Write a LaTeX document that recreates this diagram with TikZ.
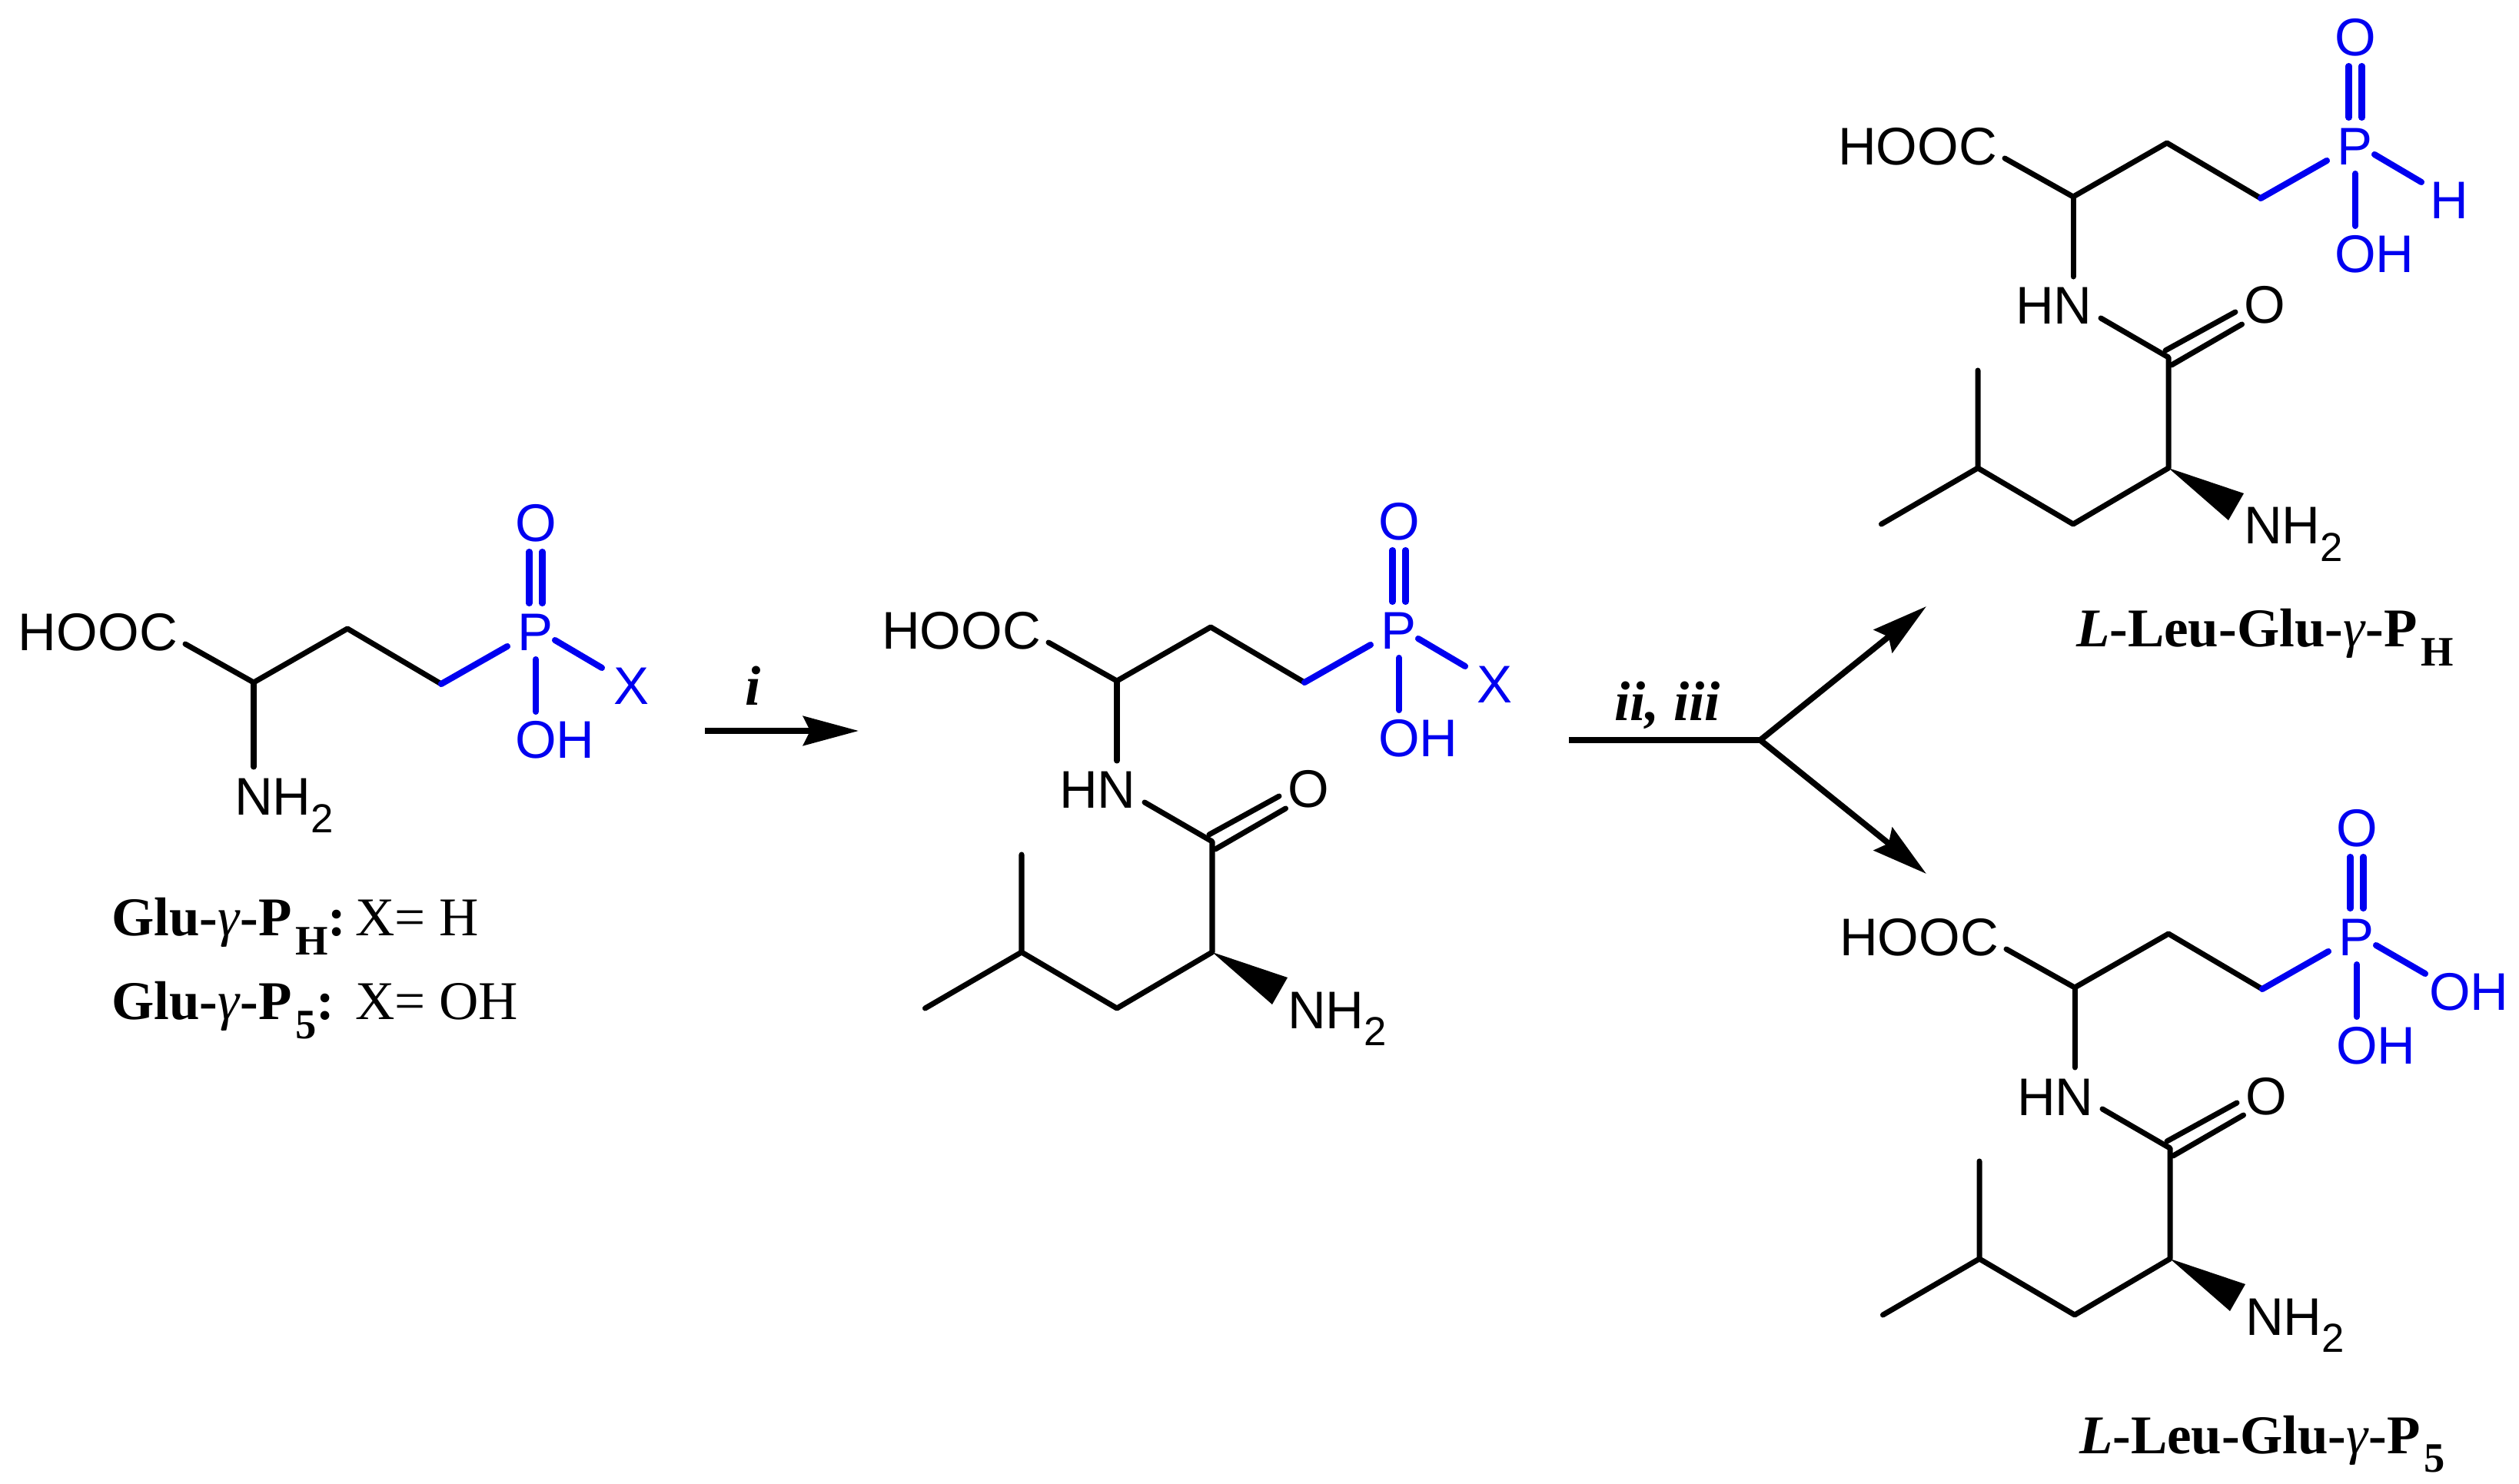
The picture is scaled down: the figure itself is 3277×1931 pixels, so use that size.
\documentclass[tikz,border=0pt]{standalone}
\usepackage{fontspec}
\setmainfont{Liberation Serif}
\newfontfamily\chemfont{Liberation Sans}
\usetikzlibrary{arrows.meta}
\definecolor{chemblue}{RGB}{0,0,240}
\newcommand{\chsub}[1]{\raisebox{-0.33em}{\fontsize{15}{15}\selectfont #1}}
\newcommand{\lblsub}[1]{\raisebox{-0.34em}{\kern0.06em\fontsize{15.5}{16}\selectfont\bfseries #1}}
\newcommand{\gam}{{\normalfont\itshape γ}}
\tikzset{
  bond/.style={line width=2pt,line cap=round,line join=round,black},
  pbond/.style={line width=2.3pt,line cap=round,line join=round,chemblue},
  atom/.style={anchor=base west,inner sep=0pt,outer sep=0pt,font=\chemfont\fontsize{19.6}{20}\selectfont,text=black},
  patom/.style={atom,text=chemblue},
  caption/.style={anchor=base west,inner sep=0pt,outer sep=0pt,font=\fontsize{20.2}{21}\selectfont,text=black},
  rxn/.style={anchor=base,inner sep=0pt,outer sep=0pt,font=\bfseries\itshape\fontsize{20.7}{21}\selectfont,text=black},
  arrowline/.style={line width=2.2pt,black},
  arrowtip/.style={-{Stealth[length=0.72cm,width=0.38cm,inset=0.09cm]}}
}
\newcommand{\phoschain}[3]{%
  \node[atom] (hooc) at (2391,214) {HOOC};
  \coordinate (c1) at (2608,205);
  \coordinate (ca) at (2697,255);
  \coordinate (cb) at (2819,185);
  \coordinate (cg) at (2941,257);
  \coordinate (cp) at (3027,208);
  \node[patom] (p) at (3040,214) {P};
  \node[patom] (o) at (3037,72) {O};
  \coordinate (d1a) at (3055.5,85); \coordinate (d1b) at (3055.5,152);
  \coordinate (d2a) at (3072.5,85); \coordinate (d2b) at (3072.5,152);
  \coordinate (px1) at (3089,200); \coordinate (px2) at (#3);
  \node[patom] (x) at (#1) {#2};
  \coordinate (po1) at (3064,225); \coordinate (po2) at (3064,293);
  \node[patom] (oh) at (3037,354) {OH};
  \draw[bond] (c1) -- (ca) -- (cb) -- (cg);
  \draw[pbond] (cg) -- (cp);
  \draw[pbond] (d1a) -- (d1b);
  \draw[pbond] (d2a) -- (d2b);
  \draw[pbond] (px1) -- (px2);
  \draw[pbond] (po1) -- (po2);
}
\newcommand{\leupart}{%
  \coordinate (nb) at (2697,359);
  \node[atom] (hn) at (2622,421) {HN};
  \coordinate (nc) at (2733,413);
  \coordinate (co) at (2821,464);
  \coordinate (e1a) at (2817,455); \coordinate (e1b) at (2908,405);
  \coordinate (e2a) at (2825,474); \coordinate (e2b) at (2916.5,421);
  \node[atom] (oc) at (2919,420) {O};
  \coordinate (cl) at (2821,608);
  \coordinate (ch2) at (2697,681);
  \coordinate (ch) at (2573,608);
  \coordinate (me1) at (2573,481);
  \coordinate (me2) at (2447.5,681);
  \coordinate (w1) at (2919,641);
  \coordinate (w2) at (2899,676);
  \node[atom] (nh) at (2919,707) {NH\chsub{2}};
  \draw[bond] (ca) -- (nb);
  \draw[bond] (nc) -- (co) -- (cl) -- (ch2) -- (ch) -- (me1);
  \draw[bond] (ch) -- (me2);
  \draw[bond] (e1a) -- (e1b);
  \draw[bond] (e2a) -- (e2b);
  \fill[black] (cl) -- (w1) -- (w2) -- cycle;
}
\begin{document}
\begin{tikzpicture}[x=0.01cm,y=-0.01cm]
\useasboundingbox (0,0) rectangle (3277,1931);
% Molecule A
\begin{scope}[shift={(-2367,633)},name prefix=a-]
  \phoschain{3165,284}{X}{3150,236}
  \coordinate (nb) at (2697,365);
  \node[atom] (nh) at (2672,428) {NH\chsub{2}};
  \draw[bond] (ca) -- (nb);
\end{scope}
\node[caption] (capA1) at (145,1218) {\textbf{Glu-}\gam\textbf{-P}\lblsub{H}\textbf{:}};
\node[caption] (capA1x) at (462,1218) {X= H};
\node[caption] (capA2) at (145,1327) {\textbf{Glu-}\gam\textbf{-P}\lblsub{5}\textbf{:}};
\node[caption] (capA2x) at (462,1327) {X= OH};
% Molecule B
\begin{scope}[shift={(-1244,631)},name prefix=b-]
  \phoschain{3165,284}{X}{3150,236}
  \leupart
\end{scope}
% Molecule C
\begin{scope}[shift={(0,1)},name prefix=c-]
  \phoschain{3161,284}{H}{3150,236}
  \leupart
\end{scope}
\node[caption] (capC) at (2701,842) {\textit{\textbf{L}}\textbf{-Leu-Glu-}\gam\textbf{-P}\lblsub{H}};
% Molecule D
\begin{scope}[shift={(2,1030)},name prefix=d-]
  \phoschain{3158,284}{OH}{3153,237}
  \leupart
\end{scope}
\node[caption] (capD) at (2705,1891) {\textit{\textbf{L}}\textbf{-Leu-Glu-}\gam\textbf{-P}\lblsub{5}};
% Arrows
\coordinate (a1s) at (917,951);
\coordinate (a1e) at (1117,951);
\draw[arrowline,arrowtip] (a1s) -- (a1e);
\node[rxn] (li) at (980,918) {i};
\coordinate (a2s) at (2041,963);
\coordinate (a2m) at (2290,963);
\coordinate (a2u) at (2506,789);
\coordinate (a2d) at (2506,1137);
\draw[arrowline] (a2s) -- (a2m);
\draw[arrowline,arrowtip] (a2m) -- (a2u);
\draw[arrowline,arrowtip] (a2m) -- (a2d);
\node[rxn] (lii) at (2169,938) {ii, iii};
\end{tikzpicture}
\end{document}
